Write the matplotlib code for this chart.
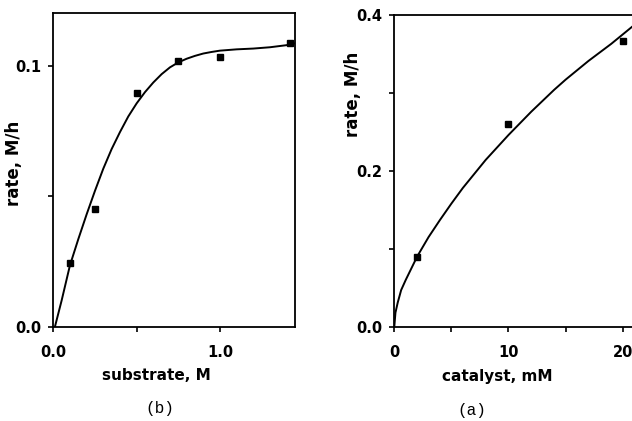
import matplotlib
matplotlib.use('Agg')
import matplotlib.pyplot as plt

################################################################################
# Data.                                                   #
################################################################################

# (b) rate vs substrate
sub_x = [0.1, 0.25, 0.5, 0.75, 1.0, 1.42]
sub_y = [0.0242, 0.045, 0.0894, 0.1019, 0.1034, 0.1085]
sub_fit_x = [0.01, 0.05, 0.1, 0.15, 0.2, 0.25, 0.3, 0.35, 0.4, 0.45, 0.5, 0.55, 0.6, 0.65,
             0.7, 0.75, 0.8, 0.85, 0.9, 0.95, 1.0, 1.1, 1.2, 1.3, 1.4, 1.45]
sub_fit_y = [0.0, 0.010, 0.0235, 0.0335, 0.043, 0.052, 0.0605, 0.068, 0.0745, 0.0805, 0.0855,
             0.0898, 0.0935, 0.0967, 0.0993, 0.1012, 0.1026, 0.1037, 0.1046, 0.1052, 0.1057,
             0.1062, 0.1065, 0.1070, 0.1078, 0.1085]

# (a) rate vs catalyst
cat_x = [2, 10, 20]
cat_y = [0.0898, 0.26, 0.366]
cat_fit_x = [0, 0.1, 0.3, 0.6, 1.0, 1.5, 2, 3, 4, 5, 6, 7, 8, 9, 10, 11, 12, 13, 14, 15,
             16, 17, 18, 19, 20, 21]
cat_fit_y = [0, 0.018, 0.031, 0.047, 0.060, 0.075, 0.090, 0.115, 0.137, 0.158, 0.178, 0.196,
             0.214, 0.230, 0.246, 0.261, 0.276, 0.290, 0.304, 0.317, 0.329, 0.341, 0.352,
             0.363, 0.375, 0.387]

################################################################################
# Plot.                                                                        #
################################################################################

plt.rcParams['font.family'] = ['DejaVu Sans']
plt.rcParams['font.weight'] = 'bold'

fig = plt.figure(figsize=(6.32, 4.21), dpi=100)

def style(ax):
  for s in ax.spines.values():
    s.set_linewidth(1.3)
  ax.tick_params(direction='out', length=3.5, width=1.2, labelsize=10.5, pad=10)
  ax.tick_params(axis='y', pad=5)

# Left panel (b).
ax = fig.add_axes([0.0843, 0.224, 0.3824, 0.7444])
ax.plot(sub_fit_x, sub_fit_y, '-', c='k', lw=1.4)
ax.plot(sub_x, sub_y, 's', c='k', ms=5)
ax.set_xlim(0, 1.45)
ax.set_ylim(0, 0.12)
ax.set_xticks([0, 0.5, 1.0])
ax.set_xticklabels(['0.0', '', '1.0'])
ax.set_yticks([0, 0.05, 0.1])
ax.set_yticklabels(['0.0', '', '0.1'])
style(ax)
ax.set_xlabel('substrate, M', fontsize=11, fontweight='bold')
ax.xaxis.set_label_coords(0.425, -0.157)
ax.xaxis.label.set_va('center')
ax.set_ylabel('rate, M/h', fontsize=12, fontweight='bold')
ax.yaxis.set_label_coords(-0.163, 0.522)
ax.yaxis.label.set_va('center')

# Right panel (a), cut off at the figure edge.
ax = fig.add_axes([0.6239, 0.224, 0.4517, 0.7404])
ax.plot(cat_fit_x, cat_fit_y, '-', c='k', lw=1.4)
ax.plot(cat_x, cat_y, 's', c='k', ms=5)
ax.set_xlim(0, 25)
ax.set_ylim(0, 0.4)
ax.set_xticks([0, 5, 10, 15, 20])
ax.set_xticklabels(['0', '', '10', '', '20'])
ax.set_yticks([0, 0.1, 0.2, 0.3, 0.4])
ax.set_yticklabels(['0.0', '', '0.2', '', '0.4'])
style(ax)
ax.set_xlabel('catalyst, mM', fontsize=11, fontweight='bold')
ax.xaxis.set_label_coords(0.361, -0.161)
ax.xaxis.label.set_va('center')
ax.set_ylabel('rate, M/h', fontsize=12, fontweight='bold')
ax.yaxis.set_label_coords(-0.145, 0.746)
ax.yaxis.label.set_va('center')

# Panel captions.
fig.text(160/632, 1-408/421, '(b)', family='Liberation Mono', fontweight='normal', fontsize=11.5, ha='center', va='center')
fig.text(472/632, 1-410/421, '(a)', family='Liberation Mono', fontweight='normal', fontsize=11.5, ha='center', va='center')

fig.savefig('out.png', dpi=100)
plt.close()
